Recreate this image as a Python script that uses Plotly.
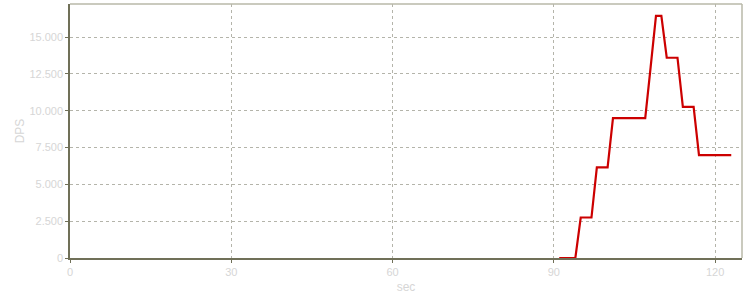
import plotly.graph_objects as go

sec = list(range(91, 124))
dps = ([0] * 4 + [2750] * 3 + [6150] * 3 + [9500] * 7 + [12950] +
       [16450] * 2 + [13600] * 3 + [10270] * 3 + [6980] * 7)

x_ticks = [0, 30, 60, 90, 120]
y_ticks = [0, 2500, 5000, 7500, 10000, 12500, 15000]

label_color = "#d6d6d6"
axis_dark = "#707058"
frame_light = "#b8b8a8"
grid_color = "#b4b4aa"

fig = go.Figure()
fig.add_trace(go.Scatter(
    x=sec, y=dps, mode="lines",
    line=dict(color="#cc0000", width=2.2),
    hoverinfo="skip", showlegend=False,
))

fig.update_layout(
    width=750, height=300,
    margin=dict(l=70, r=8, t=4, b=42),
    paper_bgcolor="white", plot_bgcolor="white",
    separators=",.",
    font=dict(family="Liberation Sans, Arial, sans-serif", size=11, color=label_color),
    xaxis=dict(
        range=[0, 125], tickvals=x_ticks, showgrid=True,
        gridcolor=grid_color, griddash="3px,3px", gridwidth=1,
        showline=True, linecolor=axis_dark, linewidth=1.5,
        ticks="outside", ticklen=3, tickcolor=axis_dark,
        zeroline=False,
        title=dict(text="sec", font=dict(size=12, color=label_color), standoff=6),
        tickfont=dict(size=11, color=label_color),
    ),
    yaxis=dict(
        range=[0, 17250], tickvals=y_ticks, tickformat=",d", showgrid=True,
        gridcolor=grid_color, griddash="3px,3px", gridwidth=1,
        showline=True, linecolor=axis_dark, linewidth=1.5,
        ticks="outside", ticklen=3, tickcolor=axis_dark,
        zeroline=False,
        title=dict(text="DPS", font=dict(size=12, color=label_color), standoff=2),
        tickfont=dict(size=11, color=label_color),
    ),
    shapes=[
        dict(type="line", xref="paper", yref="paper", x0=0, x1=1, y0=1, y1=1,
             line=dict(color=frame_light, width=1.5)),
        dict(type="line", xref="paper", yref="paper", x0=1, x1=1, y0=0, y1=1,
             line=dict(color=frame_light, width=1.5)),
    ],
)

fig.write_html("out.html")
